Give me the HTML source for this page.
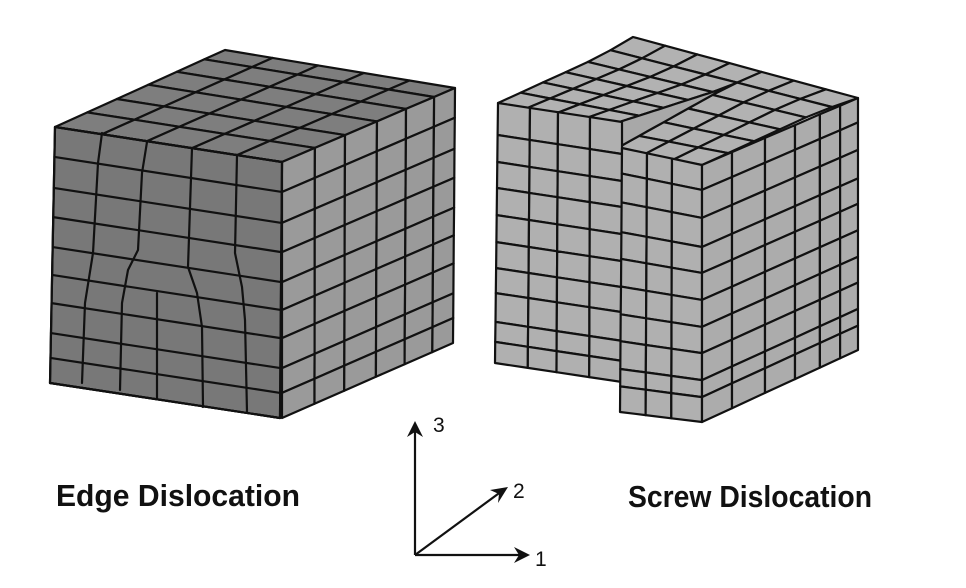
<!DOCTYPE html>
<html><head><meta charset="utf-8"><style>
html,body{margin:0;padding:0;background:#fff;}
svg{display:block;}
</style></head><body>
<svg id="s" width="966" height="588" viewBox="0 0 966 588" xmlns="http://www.w3.org/2000/svg">
<g id="g" stroke="#111" stroke-width="2.2" stroke-linejoin="round" stroke-linecap="round"></g>
<g stroke="#111" stroke-width="2.2" fill="none">
<line x1="415" y1="555" x2="415" y2="428"/>
<line x1="415" y1="555" x2="524" y2="555"/>
<line x1="415" y1="555" x2="502" y2="491"/>
</g>
<g fill="#111">
<polygon points="415,421 407,437 415,432 423,437"/>
<polygon points="530,555 514,547 519,555 514,563"/>
<polygon points="508,487 490,490 499,494 498,503"/>
</g>
<g font-family="Liberation Sans, sans-serif" fill="#111" font-size="21">
<text x="433" y="432">3</text>
<text x="513" y="498">2</text>
<text x="535" y="566">1</text>
</g>
<g font-family="Liberation Sans, sans-serif" font-weight="bold" fill="#111" font-size="31">
<text x="56" y="506" textLength="244" lengthAdjust="spacingAndGlyphs">Edge Dislocation</text>
<text x="628" y="507" textLength="244" lengthAdjust="spacingAndGlyphs">Screw Dislocation</text>
</g>
</svg>
<script>
var g=document.getElementById('g');var NS='http://www.w3.org/2000/svg';
function el(t,a){var e=document.createElementNS(NS,t);for(var k in a)e.setAttribute(k,a[k]);g.appendChild(e);return e;}
function B(c,u,v){return[(1-v)*((1-u)*c[0][0]+u*c[1][0])+v*((1-u)*c[2][0]+u*c[3][0]),(1-v)*((1-u)*c[0][1]+u*c[1][1])+v*((1-u)*c[2][1]+u*c[3][1])];}
function pts(a){return a.map(function(p){return p[0].toFixed(1)+','+p[1].toFixed(1)}).join(' ');}
function grid(fn,us,vs,fill){for(var i=0;i<us.length-1;i++)for(var j=0;j<vs.length-1;j++){var cu=(us[i]+us[i+1])/2;el('polygon',{points:pts([fn(us[i],vs[j],cu),fn(us[i+1],vs[j],cu),fn(us[i+1],vs[j+1],cu),fn(us[i],vs[j+1],cu)]),fill:fill});}}
function cq(c){return function(u,v){return B(c,u,v);};}
// LEFT CUBE
var rowsL=[0,.117,.238,.352,.469,.578,.688,.805,.902,1];
var rcolL=[0,.19,.364,.549,.717,.879,1];
var topL=[[225,50],[455,88],[55,127],[282,162]];
// top: u along width (front cols), v from back(0) to front(1)
grid(cq(topL),[0,.207,.405,.604,.802,1],rcolL.map(function(x){return 1-x}).reverse(),'#7e7e7e');
grid(cq([[282,162],[455,88],[282,418],[453,343]]),rcolL,rowsL,'#9a9a9a');
var FL=[[55,127],[282,162],[50,383],[280,418]];
el('polygon',{points:pts([FL[0],FL[1],FL[3],FL[2]]),fill:'#787878'});
rowsL.forEach(function(v){el('line',{x1:B(FL,0,v)[0],y1:B(FL,0,v)[1],x2:B(FL,1,v)[0],y2:B(FL,1,v)[1]});});
[[[102,133],[98,163],[93,253],[85,303],[82,383]],
 [[147,142],[142,173],[138,250],[128,270],[122,303],[120,390]],
 [[157,293],[157,398]],
 [[192,148],[188,267],[197,293],[202,327],[203,407]],
 [[237,155],[235,253],[242,287],[245,320],[247,412]]].forEach(function(l){el('polyline',{points:pts(l),fill:'none'});});
el('polygon',{points:pts([FL[0],FL[1],FL[3],FL[2]]),fill:'none'});
// RIGHT CUBE
var base=[[633,37],[858,98],[498,116],[702,152]]; // v: 0 back,1 front
var U=4/7;
function topfn(u,v,cu){var p=B(base,u,v);var f=1-v; var d=Math.max(0,1-f/0.75);var s=cu<U?-13:13;return[p[0],p[1]+s*d];}
var tus=[0,1/7,2/7,3/7,U,5/7,6/7,1],tvs=[0,1/6,2/6,3/6,4/6,5/6,1];
grid(topfn,tus,tvs,'#b2b2b2');
// step face
var sp=[],sp2=[];for(var k=0;k<=20;k++){var v=1-0.75*k/20;sp.push(topfn(U,v,0));sp2.unshift(topfn(U,v,1));}
el('polygon',{points:pts(sp.concat(sp2)),fill:'#a8a8a8'});
grid(cq([[498,103],[622,122],[495,363],[622,382]]),[0,.258,.484,.742,1],[0,.123,.227,.327,.431,.535,.635,.731,.842,.919,1],'#b0b0b0');
var rr=[0,.097,.206,.319,.42,.525,.630,.732,.837,.903,1];
grid(cq([[622,148],[702,165],[620,412],[702,422]]),[0,.3125,.625,1],rr,'#b0b0b0');
grid(cq([[702,165],[858,98],[702,422],[858,350]]),[0,.192,.404,.596,.756,.885,1],rr,'#acacac');
</script>
</body></html>
